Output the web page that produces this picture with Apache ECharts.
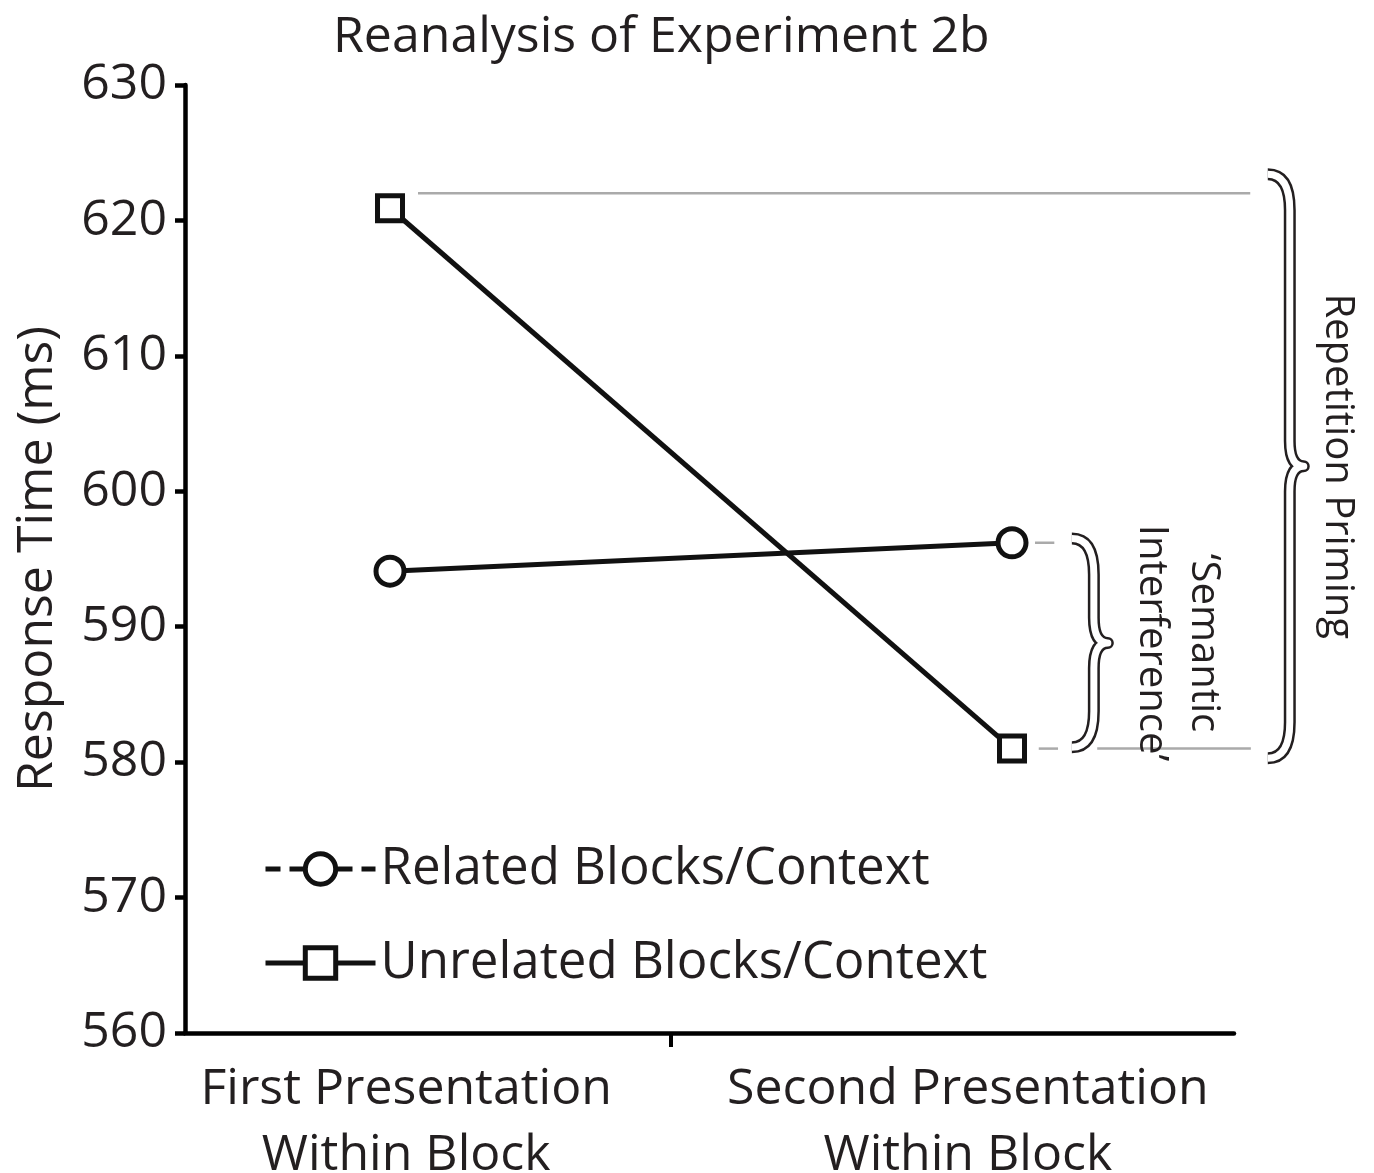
<!DOCTYPE html>
<html>
<head>
<meta charset="utf-8">
<script src="https://cdn.jsdelivr.net/npm/echarts@6/dist/echarts.min.js"></script>
<style>
  html, body { margin: 0; padding: 0; background: #fff; }
  #chart { width: 1374px; height: 1173px; }
</style>
</head>
<body>
<div id="chart"></div>
<script>
// data
const categories = ['First Presentation\nWithin Block', 'Second Presentation\nWithin Block'];
const relatedRT = [594.1, 596.2];
const unrelatedRT = [620.9, 581.0];
const yTicks = [560, 570, 580, 590, 600, 610, 620, 630];
const guideValues = [622.0, 581.0, 596.2];
const braceSpans = [[596.8, 580.8], [623.7, 580.0]];
const braceLabels = ['\u2018Semantic\nInterference\u2019', 'Repetition Priming'];

// layout (x axis runs in "presentation index" units)
const FONT = '"Open Sans", "Noto Sans", sans-serif';
const INK = '#231f20';
const labelPos = [0.026, 0.929];
const tickPos = [0.452];
const guideSpans = [[[0.045, 1.383]], [[1.043, 1.074], [1.137, 1.384]], [[1.037, 1.068]]];
const braceTipX = [1.093, 1.408];
const braceTextGap = [68, 32];

let guideData = [];
guideSpans.forEach(function (spans, i) {
  spans.forEach(function (s) { guideData.push([s[0], s[1], guideValues[i]]); });
});

const chart = echarts.init(document.getElementById('chart'));

const option = {
  animation: false,
  backgroundColor: '#fff',
  textStyle: { fontFamily: FONT, color: INK },
  title: {
    text: 'Reanalysis of Experiment 2b',
    left: 328,
    top: 8,
    textStyle: { fontFamily: FONT, fontSize: 50, fontWeight: 'normal', color: INK }
  },
  grid: { left: 185, right: 140, top: 85, bottom: 140, outerBoundsMode: 'none', containLabel: false },
  legend: {
    orient: 'vertical',
    left: 258,
    top: 838,
    itemWidth: 110,
    itemHeight: 38,
    itemGap: 42,
    itemStyle: { color: '#fff', borderColor: '#111', borderWidth: 5 },
    lineStyle: { color: '#111', width: 5 },
    textStyle: { fontFamily: FONT, fontSize: 51, color: INK, lineHeight: 52 },
    data: [
      { name: 'Related Blocks/Context', lineStyle: { color: '#111', width: 5, type: [15, 9] } },
      { name: 'Unrelated Blocks/Context' }
    ]
  },
  xAxis: {
    type: 'value',
    min: -0.3296,
    max: 1.3569,
    splitLine: { show: false },
    axisLine: { show: true, onZero: false, lineStyle: { color: '#000', width: 4.5 } },
    axisTick: { show: true, customValues: tickPos, length: 14, lineStyle: { color: '#000', width: 4 } },
    axisLabel: {
      customValues: labelPos,
      margin: 24,
      fontFamily: FONT,
      fontSize: 50,
      lineHeight: 66,
      color: INK,
      formatter: function (v) {
        return v < 0.5 ? categories[0] : categories[1];
      }
    }
  },
  yAxis: {
    type: 'value',
    min: yTicks[0],
    max: yTicks[yTicks.length - 1],
    interval: 10,
    name: 'Response Time (ms)',
    nameLocation: 'middle',
    nameGap: 122,
    nameTextStyle: { fontFamily: FONT, fontSize: 50, color: INK },
    splitLine: { show: false },
    axisLine: { show: true, onZero: false, lineStyle: { color: '#000', width: 4.5 } },
    axisTick: { show: true, length: 10, lineStyle: { color: '#000', width: 4.5 } },
    axisLabel: { margin: 18, fontFamily: FONT, fontSize: 50, color: INK }
  },
  series: [
    {
      name: 'guides',
      type: 'custom',
      z: 1,
      silent: true,
      data: guideData,
      renderItem: function (params, api) {
        const a = api.coord([api.value(0), api.value(2)]);
        const b = api.coord([api.value(1), api.value(2)]);
        return {
          type: 'line',
          shape: { x1: a[0], y1: a[1], x2: b[0], y2: b[1] },
          style: { stroke: '#aaaaaa', lineWidth: 2.5 }
        };
      }
    },
    {
      name: 'braces',
      type: 'custom',
      z: 1,
      silent: true,
      data: braceSpans.map(function (s, i) { return [braceTipX[i], s[0], s[1], i]; }),
      renderItem: function (params, api) {
        const i = api.value(3);
        const top = api.coord([api.value(0), api.value(1)]);
        const bot = api.coord([api.value(0), api.value(2)]);
        const x0 = top[0] + 2, y0 = top[1] + 4, y1 = bot[1] - 4, ym = (y0 + y1) / 2;
        const xb = x0 + 22, xc = x0 + 36, r = 36;
        const d = 'M' + x0 + ' ' + y0 +
          ' Q' + xb + ' ' + y0 + ' ' + xb + ' ' + (y0 + r) +
          ' L' + xb + ' ' + (ym - r * 0.7) +
          ' Q' + xb + ' ' + ym + ' ' + xc + ' ' + ym +
          ' Q' + xb + ' ' + ym + ' ' + xb + ' ' + (ym + r * 0.7) +
          ' L' + xb + ' ' + (y1 - r) +
          ' Q' + xb + ' ' + y1 + ' ' + x0 + ' ' + y1;
        return {
          type: 'group',
          children: [
            { type: 'path', shape: { pathData: d }, style: { fill: null, stroke: INK, lineWidth: 12, lineJoin: 'round' } },
            { type: 'path', shape: { pathData: d }, style: { fill: null, stroke: '#fff', lineWidth: 7, lineJoin: 'round' } },
            {
              type: 'text',
              x: xc + braceTextGap[i] + 2,
              y: ym,
              rotation: -Math.PI / 2,
              style: {
                text: braceLabels[i],
                fontFamily: FONT,
                fontSize: 40,
                lineHeight: 52,
                fill: INK,
                align: 'center',
                verticalAlign: 'middle'
              }
            }
          ]
        };
      }
    },
    {
      name: 'Related Blocks/Context',
      type: 'line',
      z: 3,
      data: relatedRT.map(function (v, i) { return [i, v]; }),
      symbol: 'circle',
      symbolSize: 28,
      lineStyle: { color: '#111', width: 5 },
      itemStyle: { color: '#fff', borderColor: '#111', borderWidth: 5 }
    },
    {
      name: 'Unrelated Blocks/Context',
      type: 'line',
      z: 3,
      data: unrelatedRT.map(function (v, i) { return [i, v]; }),
      symbol: 'rect',
      symbolSize: 25,
      lineStyle: { color: '#111', width: 5 },
      itemStyle: { color: '#fff', borderColor: '#111', borderWidth: 5 }
    }
  ]
};

chart.setOption(option);
</script>
</body>
</html>
